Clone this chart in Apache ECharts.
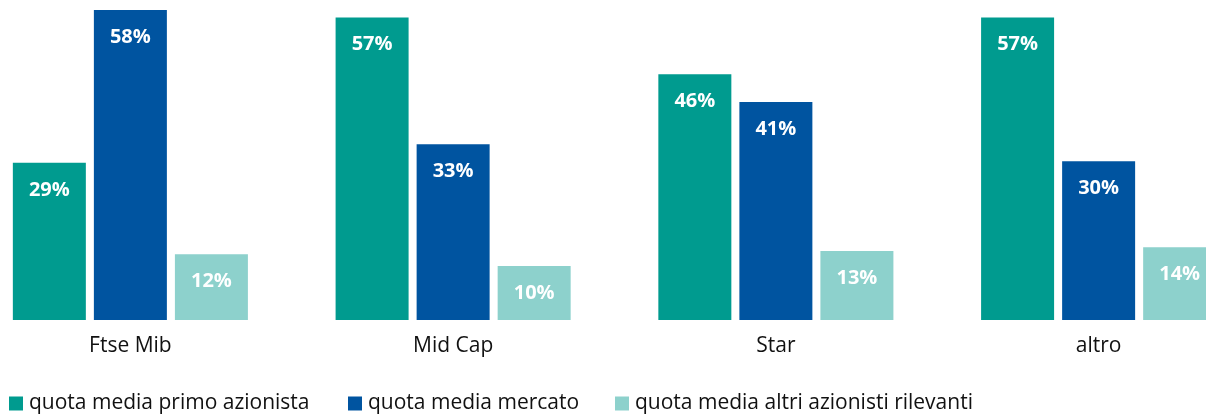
<!DOCTYPE html>
<html>
<head>
<meta charset="utf-8">
<script src="https://cdn.jsdelivr.net/npm/echarts@6/dist/echarts.min.js"></script>
<style>
  html, body { margin: 0; padding: 0; background: #fff; }
  #chart { width: 1206px; height: 416px; }
</style>
</head>
<body>
<div id="chart"></div>
<script>
// dati (le etichette mostrano il valore arrotondato)
const categories = ['Ftse Mib', 'Mid Cap', 'Star', 'altro']
const seriesNames = ['quota media primo azionista', 'quota media mercato', 'quota media altri azionisti rilevanti']
const primoAzionista = [29.4, 56.6, 46.0, 56.6]
const mercato = [58.0, 32.9, 40.8, 29.7]
const altriAzionisti = [12.3, 10.1, 12.9, 13.6]

const colors = ['#009B8F', '#0054A0', '#8DD1CC']
const font = 'Open Sans, sans-serif'

const chart = echarts.init(document.getElementById('chart'))

const makeSeries = (name, data, color) => ({
  name: name,
  type: 'bar',
  data: data,
  barWidth: 73,
  barGap: '11%',
  itemStyle: { color: color },
  label: {
    show: true,
    position: 'insideTop',
    distance: 17,
    color: '#fff',
    fontWeight: 'bold',
    fontSize: 20,
    fontFamily: font,
    formatter: (p) => Math.round(p.value) + '%'
  }
})

const legendItem = (name, left) => ({
  data: [name],
  left: left,
  top: 393,
  padding: 0,
  icon: 'rect',
  itemWidth: 14,
  itemHeight: 14,
  itemGap: 0,
  textStyle: { fontSize: 21, color: '#111', fontFamily: font, padding: [0, 0, 0, 1] }
})

chart.setOption({
  animation: false,
  grid: { left: -31, width: 1291, top: 10, bottom: 96, outerBoundsMode: 'none', containLabel: false },
  legend: [
    legendItem(seriesNames[0], 9),
    legendItem(seriesNames[1], 348),
    legendItem(seriesNames[2], 615)
  ],
  xAxis: {
    type: 'category',
    data: categories,
    axisLine: { show: false },
    axisTick: { show: false },
    axisLabel: { fontSize: 21, color: '#111', fontFamily: font, margin: 16 }
  },
  yAxis: {
    type: 'value',
    min: 0,
    max: 58,
    show: false,
    splitLine: { show: false }
  },
  series: [
    makeSeries(seriesNames[0], primoAzionista, colors[0]),
    makeSeries(seriesNames[1], mercato, colors[1]),
    makeSeries(seriesNames[2], altriAzionisti, colors[2])
  ]
})
</script>
</body>
</html>
